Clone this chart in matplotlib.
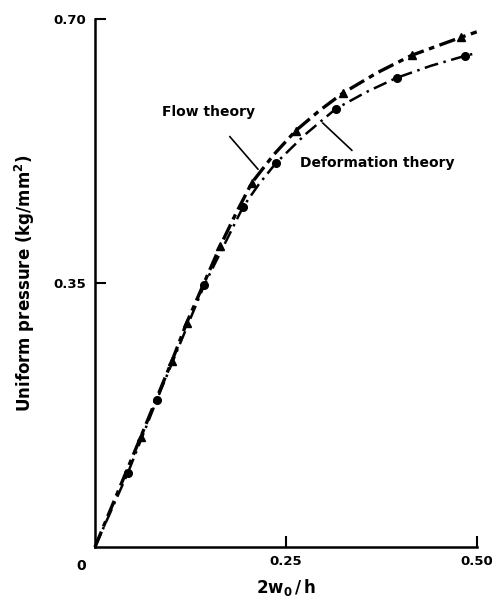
import matplotlib
matplotlib.use("Agg")
import matplotlib.pyplot as plt

plt.rcParams['font.family'] = ['DejaVu Sans']
plt.rcParams['lines.scale_dashes'] = False

# flow theory (triangles)
flow_x = [0.060, 0.101, 0.120, 0.164, 0.2055, 0.263, 0.325, 0.415, 0.480]
flow_y = [0.146, 0.247, 0.297, 0.399, 0.483, 0.552, 0.602, 0.652, 0.676]
# deformation theory (circles)
def_x = [0.043, 0.081, 0.143, 0.194, 0.237, 0.3155, 0.395, 0.484]
def_y = [0.098, 0.195, 0.347, 0.451, 0.509, 0.581, 0.622, 0.651]

# curve traces (origin to right edge)
flow_line_x = [0.0, 0.060, 0.101, 0.120, 0.164, 0.185, 0.2055, 0.234, 0.263,
               0.2945, 0.325, 0.370, 0.415, 0.480, 0.50]
flow_line_y = [0.0, 0.146, 0.247, 0.297, 0.399, 0.443, 0.483, 0.520, 0.552,
               0.579, 0.602, 0.629, 0.652, 0.676, 0.683]
def_line_x = [0.0, 0.043, 0.081, 0.143, 0.194, 0.2147, 0.237, 0.276, 0.3155,
              0.355, 0.395, 0.440, 0.484, 0.50]
def_line_y = [0.0, 0.098, 0.195, 0.347, 0.451, 0.481, 0.509, 0.5475, 0.581,
              0.603, 0.622, 0.638, 0.651, 0.655]

fig = plt.figure(figsize=(4.92, 6.00), dpi=100)
ax = fig.add_axes([0.193, 0.0883, 0.776, 0.88])

ax.plot(flow_line_x, flow_line_y, color='black', lw=2.4,
        dashes=(12, 4, 4, 4), clip_on=False)
ax.plot(def_line_x, def_line_y, color='black', lw=1.8,
        dashes=(10, 4, 1.8, 4), clip_on=False)
ax.plot(flow_x, flow_y, ls='none', marker='^', ms=5.5, color='black', clip_on=False)
ax.plot(def_x, def_y, ls='none', marker='o', ms=5.5, color='black', clip_on=False)

ax.set_xlim(0, 0.5)
ax.set_ylim(0, 0.70)
for s in ['top', 'right']:
    ax.spines[s].set_visible(False)
for s in ['left', 'bottom']:
    ax.spines[s].set_linewidth(1.8)

ax.set_xticks([0.25, 0.50])
ax.set_xticklabels(['0.25', '0.50'])
ax.set_yticks([0.35, 0.70])
ax.set_yticklabels(['0.35', '0.70'])
ax.tick_params(direction='in', length=8, width=1.5, labelsize=9.5, pad=6)
for lab in ax.get_xticklabels() + ax.get_yticklabels():
    lab.set_fontweight('bold')

ax.annotate('0', xy=(0, 0), xytext=(-10, -14), textcoords='offset points',
            ha='center', va='center', fontsize=10, fontweight='bold')

ax.set_xlabel(r'$\mathbf{2w_0\,/\,h}$', fontsize=12, labelpad=6)
ax.set_ylabel(r'Uniform pressure (kg/mm$\mathbf{^2}$)', fontsize=12,
              fontweight='bold', labelpad=12)

ax.text(0.088, 0.577, 'Flow theory', fontsize=10, fontweight='bold',
        ha='left', va='center')
ax.plot([0.1767, 0.2134], [0.544, 0.501], color='black', lw=1.2)
ax.text(0.269, 0.509, 'Deformation theory', fontsize=10, fontweight='bold',
        ha='left', va='center')
ax.plot([0.2985, 0.3364], [0.562, 0.526], color='black', lw=1.2)

fig.savefig('out.png', dpi=100)
